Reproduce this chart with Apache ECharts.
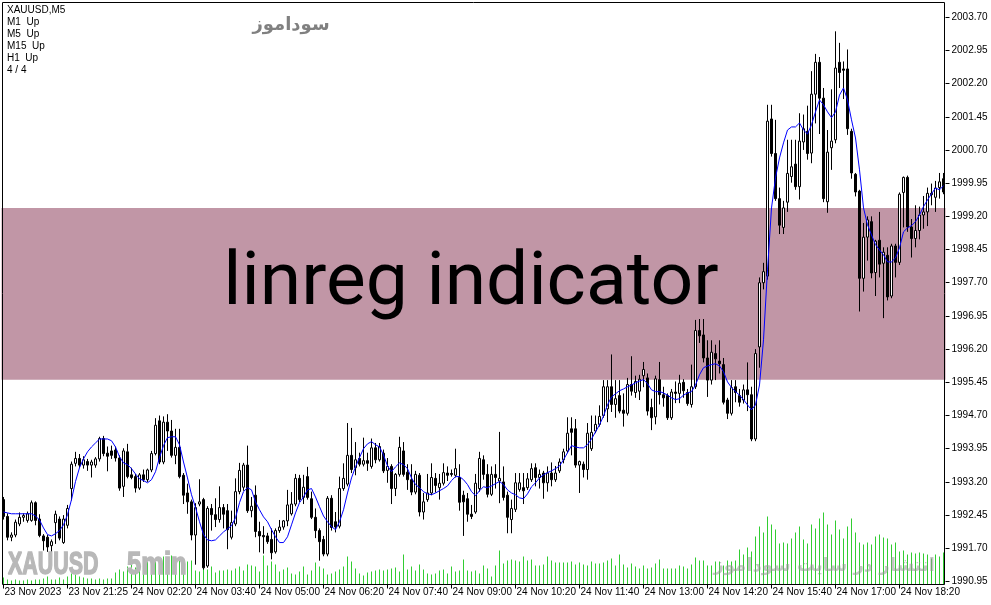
<!DOCTYPE html>
<html><head><meta charset="utf-8">
<script src="https://cdn.jsdelivr.net/npm/echarts@6/dist/echarts.min.js"></script>
<style>html,body{margin:0;padding:0;background:#fff}#c{width:991px;height:605px}</style>
</head><body><div id="c"></div><script>
// X axis tick labels (one every 16 five-minute bars)
const tickLabels = ['23 Nov 2023','23 Nov 21:25','24 Nov 02:20','24 Nov 03:40','24 Nov 05:00','24 Nov 06:20','24 Nov 07:40','24 Nov 09:00','24 Nov 10:20','24 Nov 11:40','24 Nov 13:00','24 Nov 14:20','24 Nov 15:40','24 Nov 17:00','24 Nov 18:20'];
const barsPerTick = 16;
// Price axis
const priceMin = 1990.95, priceMax = 2004.02, priceStep = 0.75;
// Highlight band (price range)
const bandLow = 1995.51, bandHigh = 1999.39;
// Candles: [open, high, low, close]
const candles = [
[1992.80,1992.86,1992.35,1992.42],[1992.42,1992.49,1991.88,1991.95],[1991.95,1992.06,1991.86,1992.00],[1992.00,1992.35,1991.95,1992.29],
[1992.25,1992.51,1992.20,1992.40],[1992.40,1992.49,1992.30,1992.44],[1992.33,1992.53,1992.28,1992.48],[1992.33,1992.78,1992.30,1992.73],
[1992.73,1992.76,1992.22,1992.33],[1992.36,1992.47,1991.95,1991.99],[1991.98,1992.02,1991.65,1991.87],[1991.95,1992.00,1991.62,1991.73],
[1991.76,1991.90,1991.60,1991.85],[1992.28,1992.55,1991.80,1992.47],[1992.36,1992.42,1991.88,1991.93],[1991.83,1992.45,1991.80,1992.36],
[1992.22,1992.68,1992.15,1992.60],[1993.05,1993.66,1992.78,1993.60],[1993.62,1993.88,1993.55,1993.73],[1993.73,1993.83,1993.52,1993.58],
[1993.58,1993.78,1993.50,1993.70],[1993.66,1993.72,1993.45,1993.58],[1993.58,1993.70,1993.30,1993.65],[1993.58,1993.76,1993.52,1993.72],
[1993.72,1994.22,1993.66,1994.18],[1994.18,1994.24,1993.78,1993.84],[1993.85,1994.00,1993.44,1993.78],[1993.90,1994.02,1993.72,1993.80],
[1993.92,1994.00,1993.66,1993.74],[1993.74,1993.80,1993.00,1993.06],[1993.10,1993.96,1992.86,1993.90],[1993.88,1994.06,1993.28,1993.32],
[1993.36,1993.52,1993.26,1993.30],[1993.32,1993.38,1992.96,1993.06],[1993.06,1993.40,1993.02,1993.36],[1993.36,1993.48,1993.20,1993.25],
[1993.25,1993.50,1993.20,1993.47],[1993.47,1993.90,1993.42,1993.84],[1993.84,1994.64,1993.80,1994.48],[1994.58,1994.70,1993.60,1993.65],
[1993.65,1994.68,1993.60,1994.55],[1994.55,1994.73,1993.90,1994.35],[1994.35,1994.60,1993.75,1993.80],[1993.80,1994.40,1993.60,1993.98],
[1993.98,1994.40,1993.28,1993.32],[1993.35,1993.40,1992.70,1992.90],[1992.95,1993.16,1992.48,1992.75],[1992.75,1992.80,1991.88,1992.00],
[1992.00,1992.72,1991.33,1992.62],[1992.70,1993.26,1992.65,1992.75],[1992.80,1992.84,1991.22,1991.26],[1991.30,1992.65,1991.26,1992.60],
[1992.60,1992.70,1992.10,1992.46],[1992.46,1992.83,1992.18,1992.35],[1992.35,1993.10,1992.28,1992.62],[1992.62,1992.70,1992.15,1992.47],
[1992.55,1992.70,1991.68,1992.12],[1991.95,1992.55,1991.90,1992.28],[1992.25,1993.28,1992.20,1992.98],[1992.98,1993.63,1992.92,1993.46],
[1993.08,1993.63,1993.00,1993.58],[1993.58,1994.02,1992.50,1992.55],[1992.55,1992.86,1992.40,1992.65],[1992.90,1993.12,1991.95,1992.08],
[1992.08,1992.30,1991.61,1991.98],[1991.99,1992.20,1991.58,1991.96],[1991.98,1992.05,1991.80,1991.85],[1991.90,1992.15,1991.45,1991.60],
[1991.62,1992.15,1991.58,1992.10],[1992.10,1992.34,1992.05,1992.18],[1992.18,1992.34,1992.12,1992.32],[1992.32,1993.02,1992.20,1992.68],
[1992.48,1992.97,1992.44,1992.70],[1992.70,1993.38,1992.65,1993.28],[1993.28,1993.36,1992.74,1992.80],[1992.85,1993.36,1992.70,1993.08],
[1993.32,1993.54,1992.80,1992.85],[1992.82,1992.98,1992.36,1992.40],[1992.40,1992.60,1991.93,1992.10],[1992.10,1992.15,1991.42,1991.85],
[1991.90,1991.98,1991.52,1991.57],[1991.57,1992.88,1991.52,1992.83],[1992.83,1992.90,1992.10,1992.17],[1992.30,1992.52,1992.06,1992.18],
[1992.20,1993.32,1992.15,1993.05],[1993.05,1993.62,1993.00,1993.28],[1993.15,1994.53,1993.10,1993.80],[1993.80,1994.42,1993.40,1993.48],
[1993.52,1994.10,1993.35,1993.70],[1993.73,1993.86,1993.55,1993.60],[1993.60,1994.20,1993.55,1993.68],[1993.68,1993.86,1993.45,1993.62],
[1993.55,1994.18,1993.50,1993.97],[1993.97,1994.08,1993.62,1993.70],[1993.70,1994.08,1993.66,1994.00],[1993.85,1993.93,1993.40,1993.45],
[1993.46,1993.74,1993.18,1993.55],[1993.55,1993.60,1992.70,1993.05],[1993.05,1993.40,1992.88,1993.37],[1993.37,1994.22,1993.32,1993.98],
[1993.90,1994.10,1993.32,1993.37],[1993.42,1993.60,1993.02,1993.25],[1993.25,1993.60,1992.90,1992.97],[1992.97,1993.45,1992.92,1993.37],
[1993.35,1993.40,1992.42,1992.52],[1992.52,1992.95,1992.35,1992.75],[1992.80,1993.38,1992.75,1992.95],[1992.95,1993.62,1992.90,1993.30],
[1993.28,1993.40,1992.96,1993.12],[1993.07,1993.38,1992.80,1993.17],[1993.17,1993.62,1993.12,1993.41],[1993.40,1993.55,1993.22,1993.35],
[1993.39,1993.48,1993.32,1993.37],[1993.35,1993.95,1993.30,1993.50],[1993.30,1993.60,1992.55,1992.74],[1992.90,1993.00,1991.98,1992.75],
[1992.82,1992.95,1992.30,1992.47],[1992.47,1992.68,1992.36,1992.42],[1992.52,1993.38,1992.48,1993.17],[1993.05,1993.88,1992.98,1993.73],
[1993.70,1993.80,1993.25,1993.37],[1993.37,1993.60,1992.85,1992.92],[1992.92,1993.55,1992.88,1993.37],[1993.37,1993.60,1993.05,1993.30],
[1993.22,1994.33,1992.72,1993.28],[1993.20,1993.55,1992.78,1992.85],[1992.90,1992.98,1992.04,1992.40],[1992.35,1992.80,1992.04,1992.60],
[1992.58,1993.40,1992.52,1993.18],[1993.03,1993.40,1992.98,1993.18],[1993.07,1993.40,1992.70,1993.00],[1993.07,1993.40,1993.02,1993.27],
[1993.25,1993.62,1993.20,1993.50],[1993.52,1993.62,1993.10,1993.30],[1993.30,1993.48,1993.05,1993.37],[1993.40,1993.45,1992.82,1993.18],
[1993.18,1993.55,1992.98,1993.40],[1993.40,1993.64,1993.10,1993.25],[1993.25,1993.56,1993.20,1993.40],[1993.45,1993.73,1993.40,1993.65],
[1993.70,1993.95,1993.62,1993.88],[1993.90,1994.66,1993.85,1994.30],[1994.40,1994.66,1993.80,1994.32],[1994.40,1994.62,1993.52,1993.58],
[1993.58,1993.68,1992.95,1993.66],[1993.60,1993.66,1993.30,1993.48],[1993.48,1994.53,1993.25,1994.30],[1993.95,1994.70,1993.90,1994.32],
[1994.35,1994.70,1994.30,1994.50],[1994.50,1994.93,1994.45,1994.68],[1994.70,1995.50,1994.65,1995.35],[1994.85,1995.50,1994.55,1995.35],
[1995.35,1996.08,1994.78,1994.95],[1994.95,1995.50,1994.65,1995.08],[1995.15,1995.50,1994.75,1994.80],[1994.82,1995.20,1994.45,1994.75],
[1994.75,1995.55,1994.70,1995.40],[1995.40,1996.04,1995.15,1995.25],[1995.22,1995.60,1995.10,1995.47],[1995.25,1995.62,1995.05,1995.52],
[1995.60,1995.91,1995.34,1995.74],[1995.55,1995.65,1994.70,1994.80],[1994.88,1995.08,1994.37,1994.65],[1994.67,1995.60,1994.50,1995.53],
[1995.51,1995.91,1994.95,1995.17],[1995.17,1995.35,1994.90,1995.10],[1995.15,1995.20,1994.60,1994.65],[1994.65,1995.30,1994.60,1995.23],
[1995.23,1995.47,1994.98,1995.20],[1995.20,1995.62,1994.98,1995.43],[1995.45,1995.52,1995.10,1995.26],[1995.22,1995.30,1994.92,1994.97],
[1994.95,1995.85,1994.88,1995.35],[1995.35,1996.86,1995.30,1996.62],[1996.62,1996.88,1996.34,1996.50],[1996.52,1996.88,1995.90,1996.00],
[1996.00,1996.40,1995.12,1995.50],[1995.50,1996.40,1995.40,1996.13],[1996.10,1996.30,1995.50,1995.98],[1995.93,1996.40,1995.65,1995.87],
[1995.85,1996.00,1994.95,1995.00],[1995.05,1995.10,1994.62,1994.75],[1994.75,1995.50,1994.70,1995.33],[1995.35,1995.50,1995.00,1995.22],
[1995.15,1995.30,1994.90,1995.00],[1995.05,1995.40,1994.97,1995.28],[1995.28,1995.90,1994.80,1995.17],[1995.17,1995.35,1994.12,1994.17],
[1994.17,1996.20,1994.12,1996.10],[1996.25,1997.82,1995.78,1997.70],[1997.70,1998.15,1997.55,1997.95],[1997.85,2001.72,1997.77,2001.35],
[2001.40,2001.72,2000.55,2000.62],[2000.62,2001.38,1999.55,1999.60],[1999.60,1999.85,1998.80,1999.00],[1998.95,1999.55,1998.80,1999.39],
[1999.52,2000.93,1999.30,2000.17],[2000.10,2000.93,1999.96,2000.32],[2000.38,2000.93,1999.80,1999.87],[1999.87,2001.53,1999.58,2000.90],
[2000.88,2001.50,2000.70,2001.18],[2001.12,2001.70,2000.48,2000.62],[2000.63,2002.48,2000.40,2001.96],[2001.96,2002.87,2001.30,2002.68],
[2002.68,2002.80,2001.06,2001.87],[2001.87,2002.10,1999.52,1999.60],[1999.53,2001.15,1999.28,2000.65],[2000.75,2002.07,2000.25,2000.90],
[2000.93,2003.38,2000.85,2002.55],[2002.68,2003.12,2002.10,2002.45],[2002.53,2002.70,2001.85,2002.50],[2002.53,2002.97,2001.04,2001.18],
[2001.12,2001.18,2000.05,2000.18],[2000.15,2000.18,1999.65,1999.75],[1999.77,1999.80,1997.05,1997.80],[1997.80,1999.05,1997.50,1998.73],
[1998.73,1999.20,1998.20,1999.12],[1999.08,1999.20,1997.80,1997.92],[1997.93,1998.67,1997.40,1998.64],[1998.66,1999.30,1997.82,1998.12],
[1998.14,1998.50,1996.90,1998.39],[1998.32,1998.50,1997.30,1997.38],[1997.40,1998.58,1997.35,1998.53],[1998.53,1998.58,1997.82,1998.16],
[1998.16,1999.74,1998.10,1999.70],[1999.74,2000.10,1998.95,2000.08],[2000.08,2000.12,1998.85,1998.96],[1998.96,1999.14,1998.27,1998.70],
[1998.70,1999.45,1998.50,1998.88],[1998.88,1999.42,1998.68,1999.23],[1999.23,1999.66,1998.92,1999.30],[1999.30,1999.85,1998.98,1999.72],
[1999.72,1999.94,1999.45,1999.69],[1999.63,2000.00,1999.30,1999.84],[1999.85,2000.18,1999.60,1999.98],[2000.05,2000.18,1999.70,1999.75]
];
// Blue regression line values
const linreg = [
1992.52,1992.50,1992.48,1992.48,1992.48,1992.48,1992.48,1992.48,1992.43,1992.34,
1992.16,1992.01,1991.98,1992.03,1992.10,1992.23,1992.46,1992.80,1993.21,1993.52,
1993.72,1993.88,1993.99,1994.08,1994.17,1994.17,1994.17,1994.13,1993.99,1993.77,
1993.63,1993.59,1993.50,1993.38,1993.27,1993.23,1993.18,1993.25,1993.43,1993.75,
1994.02,1994.20,1994.22,1994.22,1994.04,1993.65,1993.29,1992.91,1992.62,1992.30,
1992.01,1991.89,1991.87,1991.89,1991.98,1992.07,1992.14,1992.21,1992.39,1992.73,
1992.98,1993.07,1993.02,1992.75,1992.57,1992.41,1992.30,1992.12,1991.96,1991.83,
1991.83,1991.96,1992.23,1992.50,1992.73,1992.86,1993.02,1993.05,1992.86,1992.64,
1992.43,1992.30,1992.19,1992.12,1992.30,1992.57,1992.95,1993.29,1993.54,1993.75,
1993.95,1994.06,1994.11,1994.04,1993.99,1993.81,1993.56,1993.43,1993.54,1993.63,
1993.59,1993.50,1993.29,1993.14,1993.07,1992.98,1992.93,1992.91,1992.95,1993.00,
1993.05,1993.11,1993.23,1993.32,1993.32,1993.25,1993.14,1992.98,1992.89,1993.00,
1993.09,1993.07,1993.11,1993.16,1993.21,1993.14,1993.02,1992.95,1992.91,1992.84,
1992.82,1992.93,1993.09,1993.18,1993.29,1993.36,1993.41,1993.45,1993.50,1993.56,
1993.70,1993.86,1994.02,1993.99,1993.97,1993.97,1994.04,1994.17,1994.33,1994.49,
1994.69,1994.94,1995.12,1995.19,1995.26,1995.30,1995.35,1995.39,1995.44,1995.48,
1995.51,1995.42,1995.28,1995.24,1995.24,1995.21,1995.16,1995.10,1995.06,1995.08,
1995.16,1995.21,1995.24,1995.39,1995.62,1995.78,1995.82,1995.85,1995.87,1995.82,
1995.69,1995.46,1995.33,1995.24,1995.16,1995.06,1994.94,1994.83,1994.94,1995.39,
1996.41,1997.99,1999.39,2000.07,2000.52,2000.86,2001.15,2001.22,2001.22,2001.31,
2001.15,2001.06,2001.27,2001.56,2001.83,2001.72,2001.56,2001.43,2001.56,2001.94,
2002.10,2001.83,2001.38,2000.97,2000.25,1999.39,1999.01,1998.78,1998.56,1998.44,
1998.33,1998.17,1998.17,1998.26,1998.49,1998.85,1998.94,1998.99,1999.08,1999.23,
1999.42,1999.57,1999.71,1999.84,1999.80,1999.89
];
// Tick volume
const volume = [
7,5,4,5,4,4,5,4,5,5,6,8,5,5,7,5,8,11,10,8,7,6,6,5,6,5,6,6,
12,15,13,18,20,17,22,19,24,22,26,24,28,25,29,27,26,21,23,24,
14,13,16,15,18,12,14,14,15,14,16,18,14,20,19,18,13,29,19,23,
20,13,15,17,11,10,13,18,10,14,22,18,16,10,11,13,15,18,28,23,
16,11,9,12,13,14,15,14,15,16,17,13,30,15,18,14,20,15,11,10,
11,14,15,11,18,13,14,25,14,13,14,11,19,16,
8,19,34,21,24,25,24,23,28,24,25,19,19,20,28,24,22,22,22,22,
23,20,22,20,19,23,21,21,22,24,26,19,30,20,17,21,18,16,19,16,
17,21,25,16,16,16,16,19,18,16,20,27,24,24,19,19,23,23,19,24,
23,24,35,30,37,33,
48,58,52,68,60,55,41,42,41,46,52,58,45,41,60,56,66,72,60,50,64,55,46,58,66,52,42,40,42,40,48,50,47,46,40,42,33,34,30,32,31,32,31,30,26,30,28,32
];
const infoLines = ['XAUUSD,M5','M1  Up','M5  Up','M15  Up','H1  Up','4 / 4'];

const cats = candles.map((_, i) => String(i));
const isTick = (i) => i % barsPerTick === 0 && (i / barsPerTick) < tickLabels.length;
const kData = candles.map(r => [r[0], r[3], r[2], r[1]]);
const axisFont = 'Liberation Sans';

const chart = echarts.init(document.getElementById('c'), null, {renderer: 'canvas'});
chart.setOption({
  animation: false,
  backgroundColor: '#ffffff',
  grid: [
    {left: 1.5, right: 45.5, top: 3, bottom: 23.5},
    {left: 1.5, right: 45.5, top: 3, bottom: 20.5}
  ],
  xAxis: [
    {type: 'category', gridIndex: 0, data: cats, boundaryGap: true, show: false},
    {type: 'category', gridIndex: 1, data: cats, boundaryGap: true, position: 'bottom',
      axisLine: {show: false},
      axisTick: {show: true, alignWithLabel: true, interval: (i) => isTick(i), length: 4, lineStyle: {color: '#000'}},
      axisLabel: {interval: (i) => isTick(i), formatter: (v, i) => tickLabels[Math.round(i / barsPerTick)] || '',
        align: 'left', color: '#000', fontSize: 10, fontFamily: axisFont, margin: 3, padding: [0, 0, 0, 1]},
      splitLine: {show: false}}
  ],
  yAxis: [
    {type: 'value', gridIndex: 0, position: 'right', min: priceMin, max: priceMax, interval: priceStep,
      axisLine: {show: false},
      axisTick: {show: true, length: 4, lineStyle: {color: '#000'}},
      axisLabel: {color: '#000', fontSize: 10, fontFamily: axisFont, margin: 6, showMaxLabel: false,
        formatter: (v) => v.toFixed(2)},
      splitLine: {show: false}},
    {type: 'value', gridIndex: 1, min: 0, max: 582, show: false}
  ],
  series: [
    {type: 'line', name: 'band', xAxisIndex: 0, yAxisIndex: 0, data: [], silent: true, z: 1,
      markArea: {silent: true, label: {show: false}, itemStyle: {color: '#c196a6'},
        data: [[{yAxis: bandHigh}, {yAxis: bandLow}]]}},
    {type: 'bar', name: 'volume', xAxisIndex: 1, yAxisIndex: 1, data: volume, barWidth: 1,
      itemStyle: {color: '#32cd32'}, silent: true, z: 1},
    {type: 'candlestick', name: 'XAUUSD', xAxisIndex: 0, yAxisIndex: 0, data: kData, barWidth: 3, z: 3,
      itemStyle: {color: '#ffffff', color0: '#000000', borderColor: '#000000', borderColor0: '#000000', borderWidth: 1},
      silent: true},
    {type: 'line', name: 'linreg', xAxisIndex: 0, yAxisIndex: 0, data: linreg, symbol: 'none', z: 4,
      lineStyle: {color: '#0000ff', width: 1}, silent: true}
  ],
  graphic: [
    {type: 'rect', silent: true, z: 50, shape: {x: 2.5, y: 2.5, width: 942, height: 582},
      style: {fill: 'none', stroke: '#000', lineWidth: 1}},
    {type: 'text', silent: true, z: 60, x: 7, y: 4,
      style: {text: infoLines.join('\n'), font: '10px "Liberation Sans"', lineHeight: 12, fill: '#000', textAlign: 'left', textVerticalAlign: 'top'}},
    {type: 'text', silent: true, z: 60, x: 291, y: 25,
      style: {text: 'سوداموز', font: 'bold 18px "DejaVu Sans"', fill: '#808080', textAlign: 'center', textVerticalAlign: 'middle'}},
    {type: 'text', silent: true, z: 60, x: 471, y: 285,
      style: {text: 'linreg indicator', font: '75px Roboto', fill: '#000', textAlign: 'center', textVerticalAlign: 'middle'}},
    {type: 'text', silent: true, z: 60, x: 8, y: 565, scaleX: 0.67,
      style: {text: 'XAUUSD', font: 'bold 32px "Liberation Sans"', fill: '#b8b8b8', stroke: '#b8b8b8', lineWidth: 1.5, textAlign: 'left', textVerticalAlign: 'middle'}},
    {type: 'text', silent: true, z: 60, x: 127, y: 565, scaleX: 0.8,
      style: {text: '5min', font: 'bold 32px "Liberation Sans"', fill: '#b8b8b8', stroke: '#b8b8b8', lineWidth: 1.5, textAlign: 'left', textVerticalAlign: 'middle'}},
    {type: 'text', silent: true, z: 60, x: 935, y: 566,
      style: {text: 'انتشار در سایت سوداموز', font: 'bold 18px "DejaVu Sans"', fill: 'rgba(150,150,150,0.55)', textAlign: 'right', textVerticalAlign: 'middle'}}
  ]
});
</script></body></html>
